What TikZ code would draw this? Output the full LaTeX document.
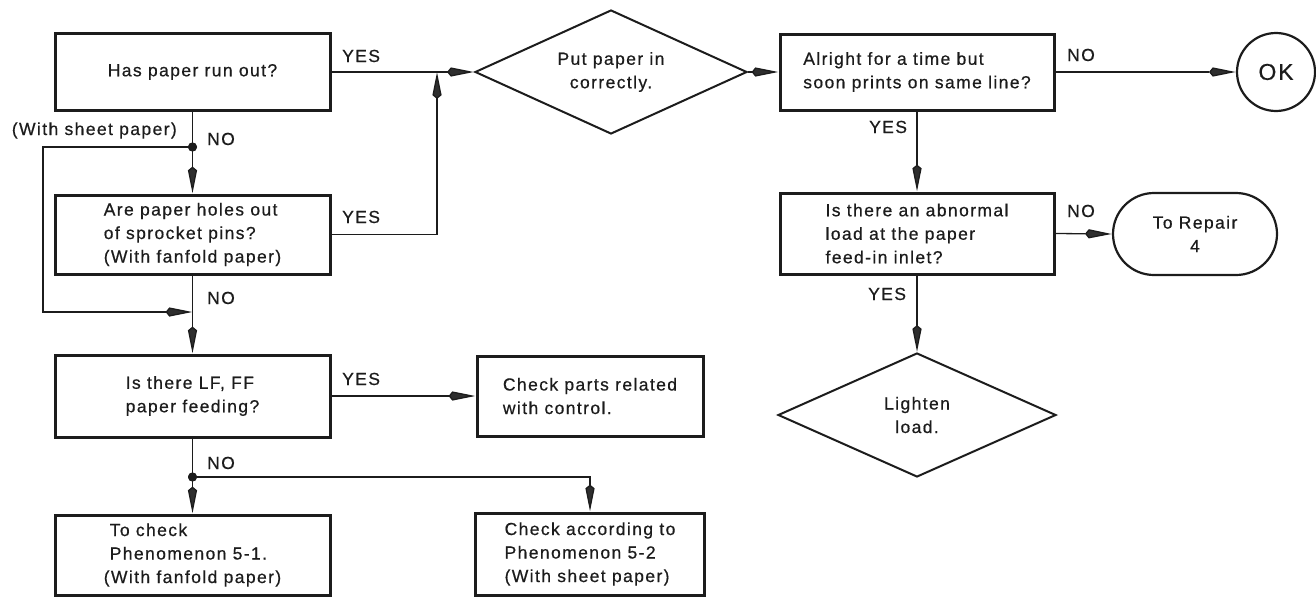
\documentclass[tikz,border=0pt]{standalone}
\usepackage{fontspec}
\setmainfont{Liberation Sans}[LetterSpace=8,FakeBold=0.6]
\usetikzlibrary{arrows.meta,shapes.geometric,shapes.misc}
\definecolor{ink}{HTML}{1C1C1C}
\definecolor{tipgray}{HTML}{2E2E2E}

\begin{document}
\begin{tikzpicture}[x=1pt,y=-1pt,
  every node/.style={font=\fontsize{17.5}{23.5}\selectfont, text=ink},
  box/.style={draw=ink, line width=3pt, rectangle, inner sep=0pt, align=left},
  decision/.style={draw=ink, line width=2pt, diamond, aspect=2.2, inner sep=1pt, align=center},
  terminal/.style={draw=ink, line width=2.2pt, inner sep=0pt, align=center},
  conn/.style={draw=ink, line width=1.3pt,
    -{Stealth[length=23pt,width=8.5pt,inset=-4pt,fill=tipgray]}},
  plain/.style={draw=ink, line width=1.3pt},
  junction/.style={circle, fill=ink, inner sep=0pt, minimum size=9pt},
  lbl/.style={anchor=base west, inner sep=0pt}]

\useasboundingbox (0,0) rectangle (1316,597);

% ---- left column ----
\node[box, minimum width=275pt, minimum height=77pt] (b1) at (192.5,72)
  {Has paper run out?};
\node[box, minimum width=275pt, minimum height=79pt] (b2) at (192.5,234.5)
  {Are paper holes out\\of sprocket pins?\\(With fanfold paper)};
\node[box, minimum width=275pt, minimum height=82pt] (b3) at (192.5,396)
  {Is there LF, FF\\paper feeding?};
\node[box, minimum width=275pt, minimum height=80pt] (b7) at (192.5,555)
  {\hspace*{6pt}To check\\\hspace*{6pt}Phenomenon 5-1.\\(With fanfold paper)};

% ---- middle column ----
\node[decision, minimum width=272pt, minimum height=124pt] (d1) at (611,72)
  {Put paper in\\correctly.};
\node[box, minimum width=226pt, minimum height=80pt] (b6) at (590,396)
  {Check parts related\\with control.};
\node[box, minimum width=229pt, minimum height=82pt] (b8) at (590,554)
  {Check according to\\Phenomenon 5-2\\(With sheet paper)};

% ---- right column ----
\node[box, minimum width=274pt, minimum height=76pt] (b4) at (917,72)
  {Alright for a time but\\soon prints on same line?};
\node[box, minimum width=274pt, minimum height=81pt] (b5) at (917,233.5)
  {Is there an abnormal\\load at the paper\\feed-in inlet?};
\node[decision, minimum width=278pt, minimum height=124pt] (d2) at (917,415)
  {Lighten\\load.};
\node[terminal, circle, minimum size=78pt, font=\fontsize{23}{26}\selectfont] (ok)
  at (1276,72) {OK};
\node[terminal, rounded rectangle, minimum width=164pt, minimum height=82pt] (rep)
  at (1195,234) {To Repair\\4};

% ---- branch points ----
\node[junction] (n1) at (192.5,147) {};
\node[junction] (n2) at (192.5,477) {};
\coordinate (j1) at (437,72);
\coordinate (m1) at (192.5,312);

% ---- connectors ----
\draw[plain] (b1.east) -- (j1);
\draw[conn] (j1) -- (d1.west);
\draw[conn] (b2.east) -| (j1);
\draw[conn] (d1.east) -- (b4.west);
\draw[conn] (b4.east) -- (ok.west);
\draw[conn] (b4.south) -- (b5.north);
\draw[conn] (b5.east) -- (rep.west);
\draw[conn] (b5.south) -- (d2.north);
\draw[conn] (b1.south) -- (b2.north);
\draw[conn] (n1.center) -- ++(-149.5,0) |- (m1);
\draw[conn] (b2.south) -- (b3.north);
\draw[conn] (b3.east) -- (b6.west);
\draw[conn] (b3.south) -- (b7.north);
\draw[conn] (n2.center) -| (b8.north);
\node[junction] at (n1) {};
\node[junction] at (n2) {};

% ---- branch labels ----
\node[lbl] (y1) at (342,62) {YES};
\node[lbl, anchor=base east] (ws) at (177,135) {(With sheet paper)};
\node[lbl] (no1) at (207,145) {NO};
\node[lbl] (y2) at (342,223) {YES};
\node[lbl] (no2) at (207,304) {NO};
\node[lbl] (y3) at (342,385) {YES};
\node[lbl] (no3) at (207,469) {NO};
\node[lbl] (no4) at (1067,61) {NO};
\node[lbl] (y4) at (869,133) {YES};
\node[lbl] (no5) at (1067,217) {NO};
\node[lbl] (y5) at (868,300) {YES};
\end{tikzpicture}
\end{document}
